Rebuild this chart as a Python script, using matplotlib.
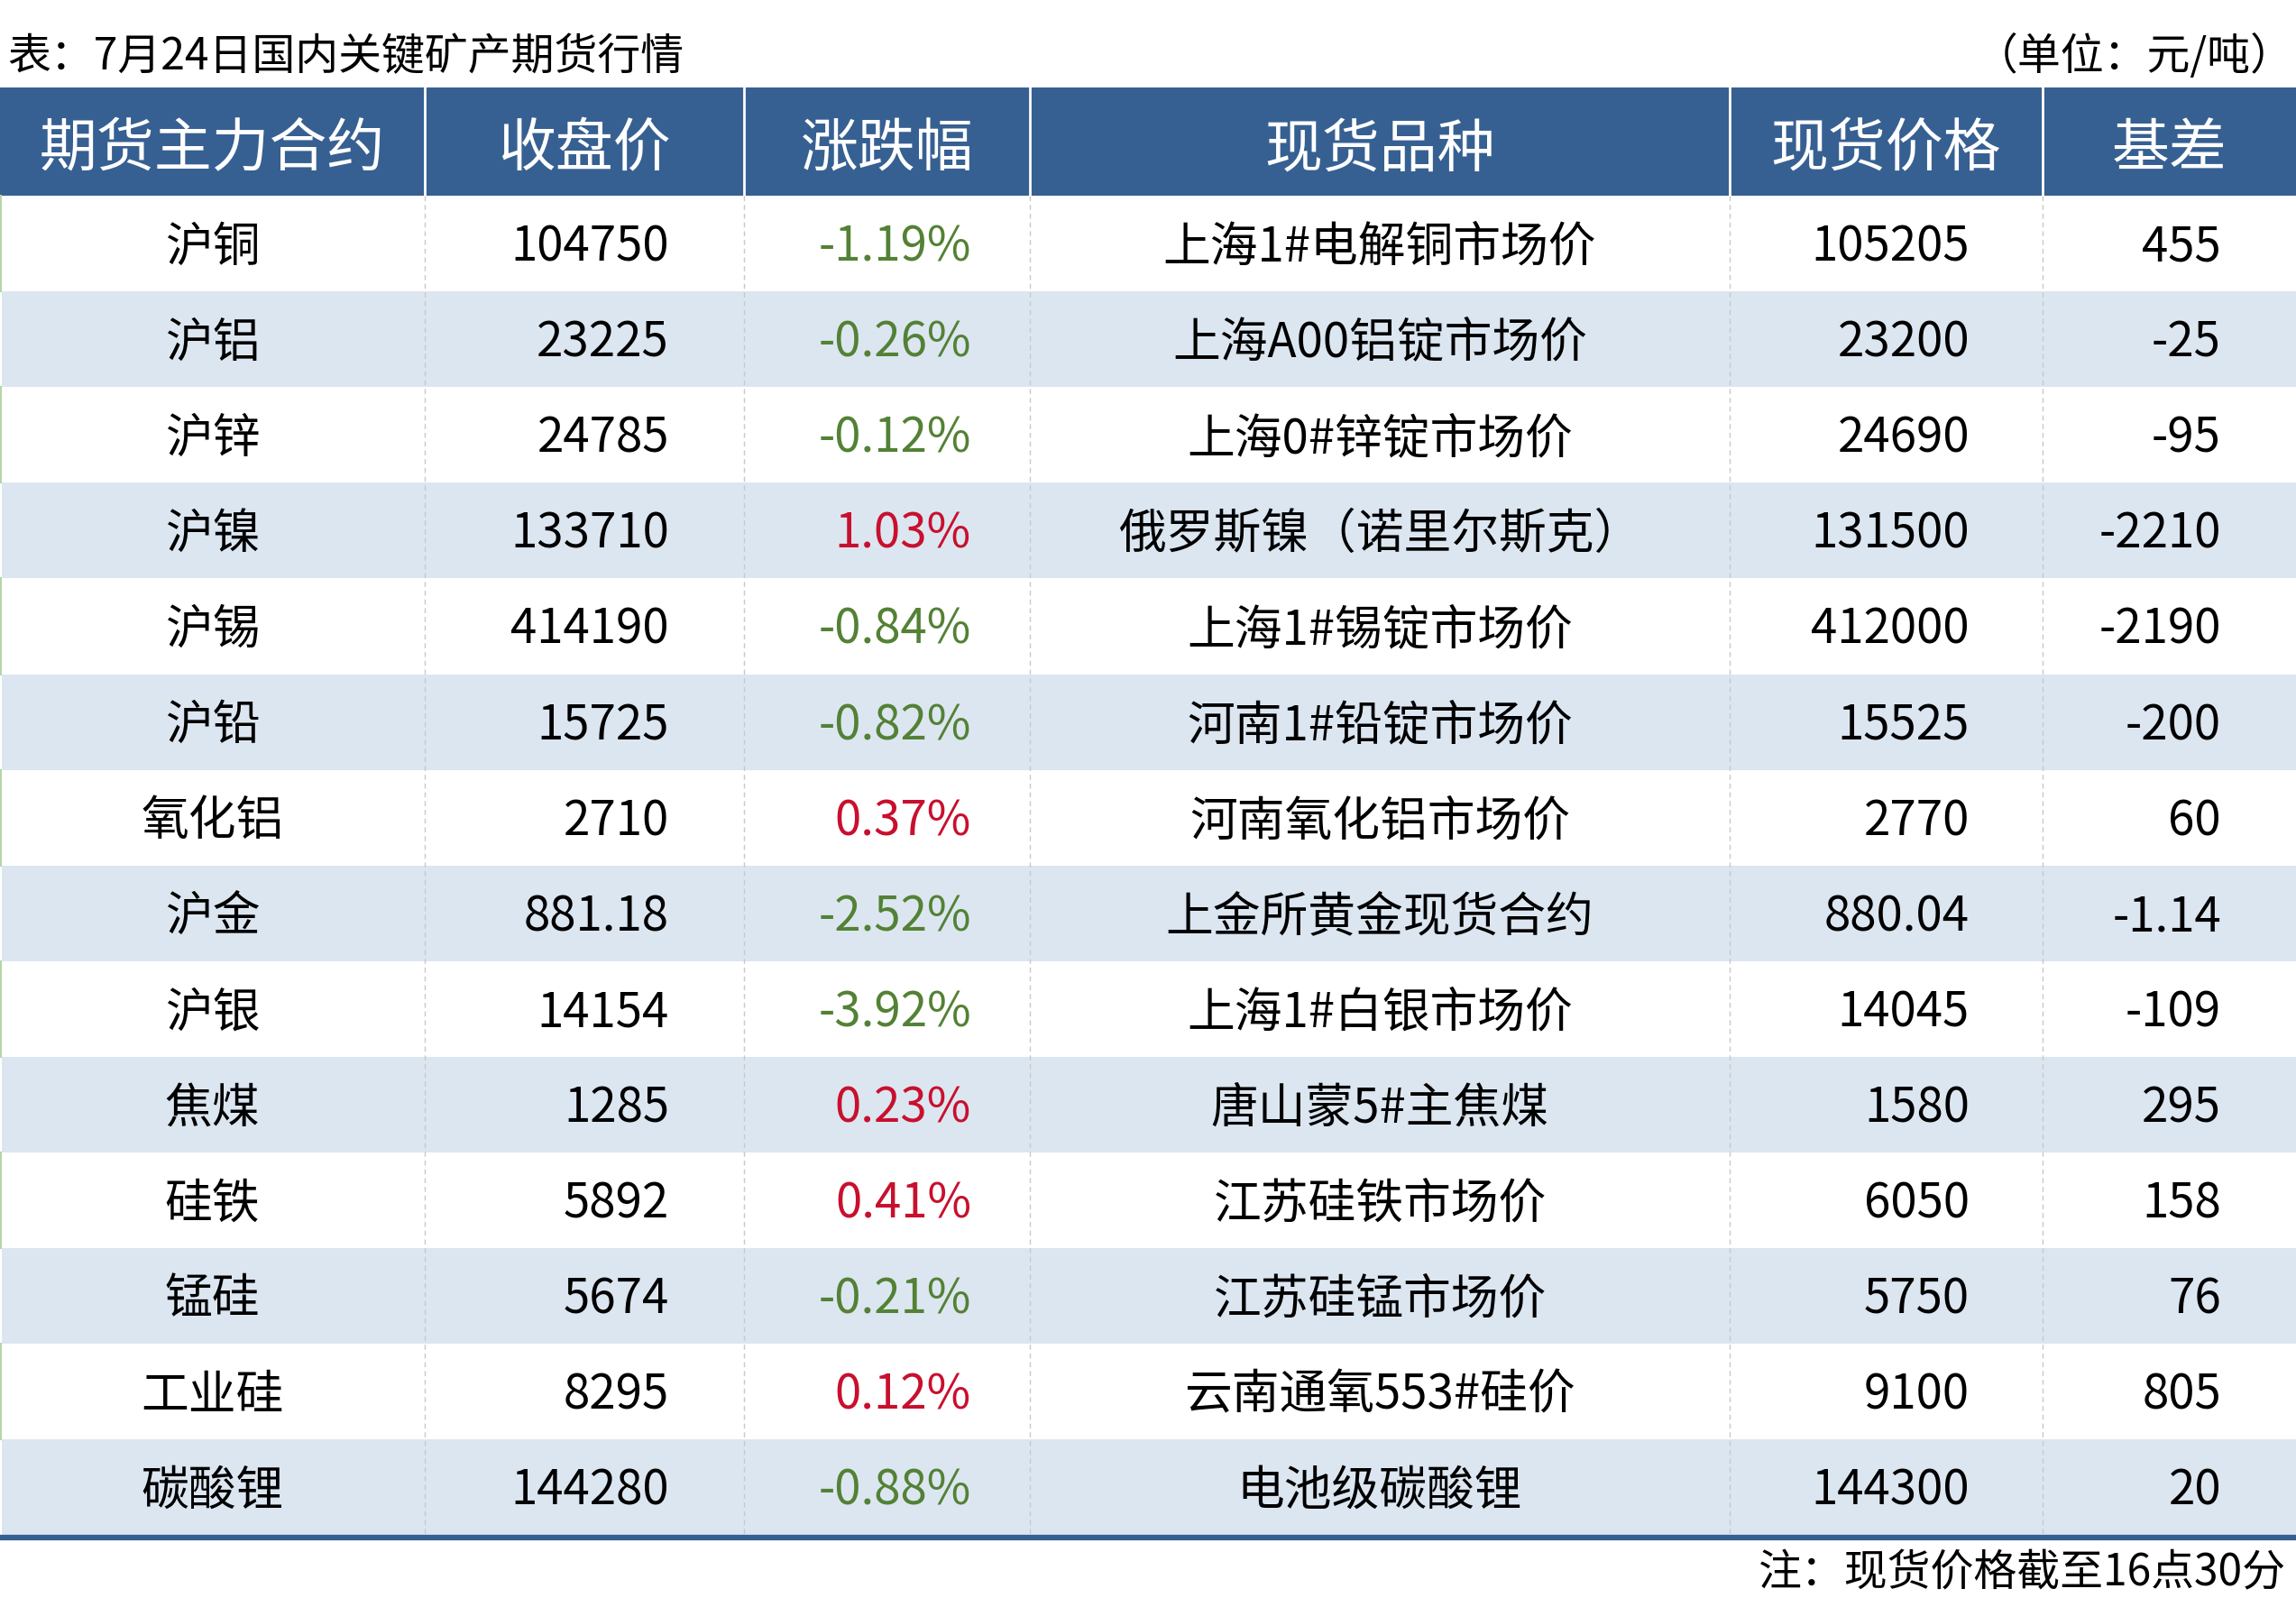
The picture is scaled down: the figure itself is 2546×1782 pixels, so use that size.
import matplotlib
matplotlib.use('Agg')
from matplotlib import pyplot as plt
from matplotlib.patches import Rectangle

plt.rcParams['font.family'] = ['Noto Sans CJK SC', 'DejaVu Sans']

# table data
headers = ['期货主力合约', '收盘价', '涨跌幅', '现货品种', '现货价格', '基差']
contracts = ['沪铜', '沪铝', '沪锌', '沪镍', '沪锡', '沪铅', '氧化铝', '沪金', '沪银',
             '焦煤', '硅铁', '锰硅', '工业硅', '碳酸锂']
close_prices = ['104750', '23225', '24785', '133710', '414190', '15725', '2710',
                '881.18', '14154', '1285', '5892', '5674', '8295', '144280']
changes = [-1.19, -0.26, -0.12, 1.03, -0.84, -0.82, 0.37, -2.52, -3.92, 0.23,
           0.41, -0.21, 0.12, -0.88]
spot_names = ['上海1#电解铜市场价', '上海A00铝锭市场价', '上海0#锌锭市场价',
              '俄罗斯镍（诺里尔斯克）', '上海1#锡锭市场价', '河南1#铅锭市场价',
              '河南氧化铝市场价', '上金所黄金现货合约', '上海1#白银市场价',
              '唐山蒙5#主焦煤', '江苏硅铁市场价', '江苏硅锰市场价',
              '云南通氧553#硅价', '电池级碳酸锂']
spot_prices = ['105205', '23200', '24690', '131500', '412000', '15525', '2770',
               '880.04', '14045', '1580', '6050', '5750', '9100', '144300']
basis = ['455', '-25', '-95', '-2210', '-2190', '-200', '60', '-1.14', '-109',
         '295', '158', '76', '805', '20']

title = '表：7月24日国内关键矿产期货行情'
unit = '（单位：元/吨）'
note = '注：现货价格截至16点30分'

# layout in pixels
W, H = 2546, 1782
col_edges = [0, 471, 825, 1142, 1918, 2265, 2546]
head_top, head_bot = 97, 217
row_h = 106.1
header_blue = '#376092'
light_blue = '#dce6f1'
green = '#538135'
red = '#c8102e'

fig = plt.figure(figsize=(W / 100, H / 100), dpi=100)
ax = fig.add_axes([0, 0, 1, 1])
ax.set_xlim(0, W)
ax.set_ylim(H, 0)
ax.axis('off')

# header
ax.add_patch(Rectangle((0, head_top), W, head_bot - head_top, color=header_blue, lw=0))
for x in col_edges[1:-1]:
    ax.plot([x, x], [head_top, head_bot], color='white', lw=2)
for i, h in enumerate(headers):
    cx = (col_edges[i] + col_edges[i + 1]) / 2
    ax.text(cx, (head_top + head_bot) / 2 + 9, h, color='white', fontsize=46,
            ha='center', va='center')

# body rows
n = len(contracts)
for r in range(n):
    y0 = head_bot + r * row_h
    yc = y0 + row_h / 2 + 4
    if r % 2 == 1:
        ax.add_patch(Rectangle((2, y0), W - 2, row_h, color=light_blue, lw=0))
    else:
        ax.plot([1, 1], [y0, y0 + row_h], color='#b5d6a7', lw=1.5)
    chg = changes[r]
    chg_color = red if chg > 0 else green
    cells = [
        (contracts[r], (col_edges[0] + col_edges[1]) / 2, 'center', 'black'),
        (close_prices[r], 742, 'right', 'black'),
        ('%.2f%%' % chg, 1077, 'right', chg_color),
        (spot_names[r], (col_edges[3] + col_edges[4]) / 2, 'center', 'black'),
        (spot_prices[r], 2184, 'right', 'black'),
        (basis[r], 2463, 'right', 'black'),
    ]
    for txt, x, ha, c in cells:
        ax.text(x, yc, txt, fontsize=38, ha=ha, va='center', color=c)

body_bot = head_bot + n * row_h
for x in col_edges[1:-1]:
    ax.plot([x, x], [head_bot, body_bot], color='#c8c8c8', lw=1, ls=(0, (4, 3)))
ax.plot([0, W], [body_bot + 3, body_bot + 3], color=header_blue, lw=4.5,
        solid_capstyle='butt')

# titles and notes
ax.text(8, 63, title, fontsize=34.5, ha='left', va='center')
ax.text(2544, 63, unit, fontsize=34.5, ha='right', va='center')
ax.text(2535, 1745, note, fontsize=34.5, ha='right', va='center')

fig.savefig('out.png', dpi=100)
